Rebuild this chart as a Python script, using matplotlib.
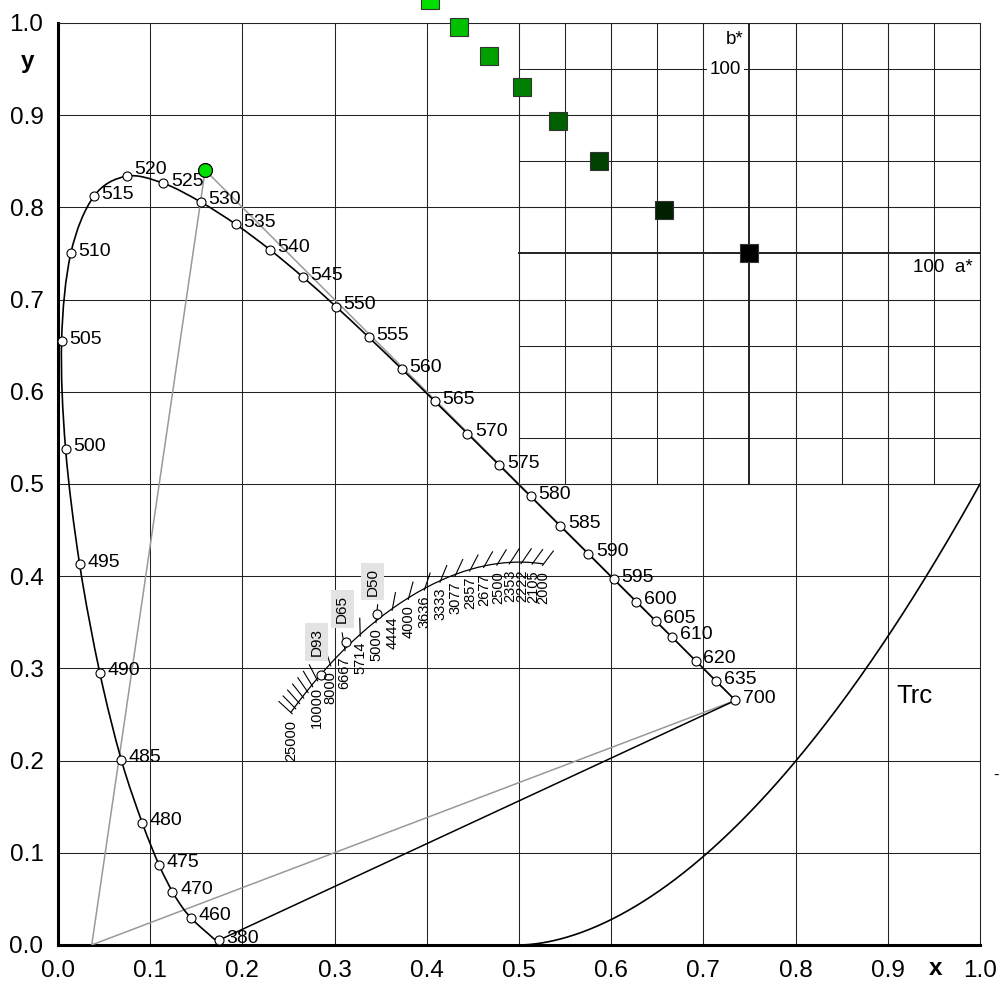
import numpy as np
import matplotlib.pyplot as plt
from matplotlib.path import Path
from matplotlib.patches import PathPatch

plt.rcParams['font.family'] = ['Liberation Sans', 'DejaVu Sans']

# --- CIE 1931 2° spectral locus, 380-700 nm in 5 nm steps ---
wavelengths = list(range(380, 705, 5))
locus_x = [0.1741, 0.1740, 0.1738, 0.1736, 0.1733, 0.1730, 0.1726, 0.1721, 0.1714,
           0.1703, 0.1689, 0.1669, 0.1644, 0.1611, 0.1566, 0.1510, 0.1440, 0.1355,
           0.1241, 0.1096, 0.0913, 0.0687, 0.0454, 0.0235, 0.0082, 0.0039, 0.0139,
           0.0389, 0.0743, 0.1142, 0.1547, 0.1929, 0.2296, 0.2658, 0.3016, 0.3373,
           0.3731, 0.4087, 0.4441, 0.4788, 0.5125, 0.5448, 0.5752, 0.6029, 0.6270,
           0.6482, 0.6658, 0.6801, 0.6915, 0.7006, 0.7079, 0.7140, 0.7190, 0.7230,
           0.7260, 0.7283, 0.7300, 0.7311, 0.7320, 0.7327, 0.7334, 0.7340, 0.7344,
           0.7346, 0.7347]
locus_y = [0.0050, 0.0050, 0.0049, 0.0049, 0.0048, 0.0048, 0.0048, 0.0048, 0.0051,
           0.0058, 0.0069, 0.0086, 0.0109, 0.0138, 0.0177, 0.0227, 0.0297, 0.0399,
           0.0578, 0.0868, 0.1327, 0.2007, 0.2950, 0.4127, 0.5384, 0.6548, 0.7502,
           0.8120, 0.8338, 0.8262, 0.8059, 0.7816, 0.7543, 0.7243, 0.6923, 0.6589,
           0.6245, 0.5896, 0.5547, 0.5202, 0.4866, 0.4544, 0.4242, 0.3965, 0.3725,
           0.3514, 0.3340, 0.3197, 0.3083, 0.2993, 0.2920, 0.2859, 0.2809, 0.2770,
           0.2740, 0.2717, 0.2700, 0.2689, 0.2680, 0.2673, 0.2666, 0.2660, 0.2656,
           0.2654, 0.2653]
marked_nm = [380, 460, 470, 475, 480, 485, 490, 495, 500, 505, 510, 515, 520, 525,
             530, 535, 540, 545, 550, 555, 560, 565, 570, 575, 580, 585, 590, 595,
             600, 605, 610, 620, 635, 700]

# --- Planckian locus (Robertson table: mired, u, v, isotemperature slope) ---
rob_mired = [40, 50, 60, 70, 80, 90, 100, 125, 150, 175, 200, 225, 250, 275, 300,
             325, 350, 375, 400, 425, 450, 475, 500]
rob_u = [0.18293, 0.18388, 0.18494, 0.18611, 0.18740, 0.18880, 0.19032, 0.19462,
         0.19962, 0.20525, 0.21142, 0.21807, 0.22511, 0.23247, 0.24010, 0.24792,
         0.25591, 0.26400, 0.27218, 0.28039, 0.28863, 0.29685, 0.30505]
rob_v = [0.27407, 0.27709, 0.28021, 0.28342, 0.28668, 0.28997, 0.29326, 0.30141,
         0.30921, 0.31647, 0.32312, 0.32909, 0.33439, 0.33904, 0.34308, 0.34655,
         0.34951, 0.35200, 0.35407, 0.35577, 0.35714, 0.35823, 0.35907]
rob_t = [-0.30470, -0.32675, -0.35156, -0.37915, -0.40955, -0.44278, -0.47888,
         -0.58204, -0.70471, -0.84901, -1.0182, -1.2168, -1.4512, -1.7298, -2.0637,
         -2.4681, -2.9641, -3.5814, -4.3633, -5.3762, -6.7262, -8.5955, -11.324]
cct_labels = ['25000', '', '', '', '', '', '10000', '8000', '6667', '5714', '5000',
              '4444', '4000', '3636', '3333', '3077', '2857', '2677', '2500', '2353',
              '2222', '2105', '2000']

# --- white points ---
illum_names = ['D93', 'D65', 'D50']
illum_x = [0.2848, 0.3127, 0.3457]
illum_y = [0.2932, 0.3290, 0.3585]

# --- RGB primaries (R, G, B) ---
prim_x = [0.7347, 0.1596, 0.0366]
prim_y = [0.2653, 0.8404, 0.0001]

# --- green ramp in CIELAB (a*, b*) ---
lab_a = [-173, -157.5, -141, -123.5, -104, -81.6, -46.5, 0]
lab_b = [137.5, 123, 107, 90.3, 71.7, 50.2, 23.5, 0]
lab_colors = ['#00e000', '#00c000', '#00a000', '#008000', '#006000', '#004000',
              '#002000', '#000000']
lab_grid = [-125, -100, -75, -50, -25, 0, 25, 50, 75, 100, 125]

trc_gamma = 1.8


def uv_to_xy(u, v):
    d = 2 * u - 8 * v + 4
    return 3 * u / d, 2 * v / d


def lab_to_plot(a, b):
    # Lab panel: origin at (0.75, 0.75), 100 units = 0.2
    return 0.75 + np.asarray(a) * 0.002, 0.75 + np.asarray(b) * 0.002


def smooth_path(xs, ys):
    # Catmull-Rom through the points, drawn as cubic Bezier segments
    p = np.column_stack([xs, ys])
    ext = np.vstack([p[:1], p, p[-1:]])
    verts = [p[0]]
    codes = [Path.MOVETO]
    for i in range(len(p) - 1):
        c1 = ext[i + 1] + (ext[i + 2] - ext[i]) / 6
        c2 = ext[i + 2] - (ext[i + 3] - ext[i + 1]) / 6
        verts += [c1, c2, ext[i + 2]]
        codes += [Path.CURVE4] * 3
    return Path(verts, codes)


fig = plt.figure(figsize=(10.01, 9.82), dpi=100)
ax = fig.add_axes([0.05794, 0.03768, 0.92108, 0.93890])
ax.set_xlim(0, 1)
ax.set_ylim(0, 1)

ticks = np.round(np.arange(0, 1.01, 0.1), 1)
ax.set_xticks(ticks)
ax.set_yticks(ticks)
ax.set_xticklabels([f"{t:.1f}" for t in ticks])
ax.set_yticklabels([f"{t:.1f}" for t in ticks])
ax.tick_params(length=0, pad=10.5, labelsize=17.5)
ax.grid(True, color='#222222', linewidth=0.75)
ax.set_axisbelow(True)
for side in ['left', 'bottom']:
    ax.spines[side].set_linewidth(2.2)
for side in ['top', 'right']:
    ax.spines[side].set_linewidth(0.75)
    ax.spines[side].set_color('#222222')

ax.text(-0.0325, 0.958, 'y', fontsize=17.5, fontweight='bold', ha='center', va='center')
ax.text(0.952, -0.026, 'x', fontsize=17.5, fontweight='bold', ha='center', va='center',
        clip_on=False)
ax.text(1.017, 0.184, '-', fontsize=12, ha='center', va='center', clip_on=False)

# --- Lab grid in the upper right ---
for g in lab_grid:
    gx, _ = lab_to_plot(g, 0)
    lw = 1.4 if g == 0 else 0.75
    y0, y1 = lab_to_plot(0, [lab_grid[0], lab_grid[-1]])[1]
    ax.plot([gx, gx], [y0, y1], color='#222222', lw=lw, zorder=1)
    _, gy = lab_to_plot(0, g)
    x0, x1 = lab_to_plot([lab_grid[0], lab_grid[-1]], 0)[0]
    ax.plot([x0, x1], [gy, gy], color='#222222', lw=lw, zorder=1)

bx, by = lab_to_plot(0, 100)
ax.text(bx - 0.0095, by, '100', fontsize=13.5, ha='right', va='center', zorder=2,
        bbox=dict(boxstyle='square,pad=0.15', fc='white', ec='none'))
ax.text(bx - 0.0067, 0.982, 'b*', fontsize=13.5, ha='right', va='center')
ax.text(0.9275, 0.735, '100  a*', fontsize=13.5, ha='left', va='center')

# --- tone response curve ---
t = np.linspace(0, 1, 300)
ax.plot(0.5 + 0.5 * t, 0.5 * t ** trc_gamma, color='black', lw=1.2, zorder=2)
ax.text(0.9097, 0.27, 'Trc', fontsize=18.5, ha='left', va='center')

# --- gamut triangle ---
ax.plot(prim_x + prim_x[:1], prim_y + prim_y[:1], color='#999999', lw=1.1, zorder=3)

# --- spectral locus + purple line ---
ax.add_patch(PathPatch(smooth_path(locus_x, locus_y), fill=False, ec='black',
                       lw=1.2, zorder=4))
ax.plot([locus_x[0], locus_x[-1]], [locus_y[0], locus_y[-1]], color='black', lw=1.1,
        zorder=4)
for nm in marked_nm:
    i = wavelengths.index(nm)
    ax.plot(locus_x[i], locus_y[i], 'o', ms=6.5, mfc='white', mec='black', mew=0.8,
            zorder=5)
    dy = 4.5 if nm == 520 else 1.5
    ax.annotate(str(nm), (locus_x[i], locus_y[i]), xytext=(5.5, dy),
                textcoords='offset points', fontsize=14, ha='left', va='center',
                zorder=6)

# --- Planckian locus with isotemperature ticks ---
rob_u = np.array(rob_u)
rob_v = np.array(rob_v)
rob_t = np.array(rob_t)
px, py = uv_to_xy(rob_u, rob_v)
ax.add_patch(PathPatch(smooth_path(px, py), fill=False, ec='black', lw=0.9, zorder=4))
step = 0.005 / np.sqrt(1 + rob_t ** 2)
qx, qy = uv_to_xy(rob_u - step, rob_v - rob_t * step)
dx, dy = qx - px, qy - py
norm = np.hypot(dx, dy)
dx, dy = dx / norm, dy / norm
for i in range(len(px)):
    ax.plot([px[i] - 0.002 * dx[i], px[i] + 0.0175 * dx[i]],
            [py[i] - 0.002 * dy[i], py[i] + 0.0175 * dy[i]],
            color='black', lw=0.8, zorder=4)
    if cct_labels[i]:
        ax.annotate(cct_labels[i], (px[i], py[i]), xytext=(0, -5.4),
                    textcoords='offset points', rotation=90, fontsize=10.5,
                    ha='center', va='top', zorder=6)

for name, ix, iy in zip(illum_names, illum_x, illum_y):
    ax.plot(ix, iy, 'o', ms=6.5, mfc='white', mec='black', mew=0.8, zorder=5)
    ax.annotate(name, (ix, iy), xytext=(-3, 23.5), textcoords='offset points',
                rotation=90, fontsize=11, ha='center', va='center', zorder=6,
                bbox=dict(boxstyle='square,pad=0.3', fc='#e3e3e3', ec='none'))

# --- green primary and its Lab ramp ---
ax.plot(prim_x[1], prim_y[1], 'o', ms=10, mfc='#00e000', mec='black', mew=0.9,
        zorder=7, clip_on=False)
sq_x, sq_y = lab_to_plot(lab_a, lab_b)
for sx, sy, c in zip(sq_x, sq_y, lab_colors):
    ax.plot(sx, sy, 's', ms=13.5, mfc=c, mec='#333333', mew=0.8, zorder=7,
            clip_on=False)

fig.savefig('out.png', dpi=100)
